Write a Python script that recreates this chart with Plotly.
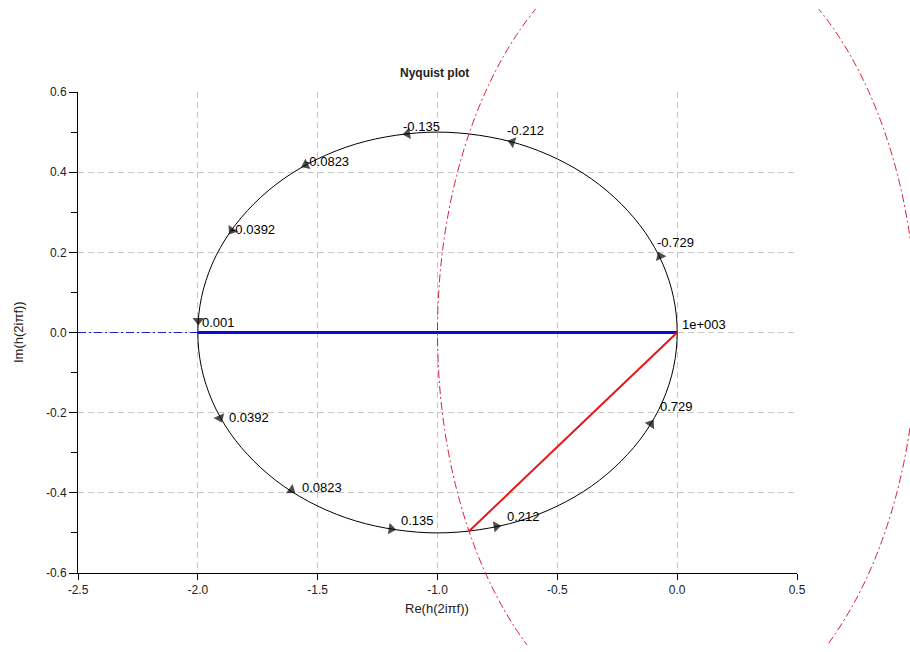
import numpy as np
import plotly.graph_objects as go

# Nyquist locus of h(2iπf), traversed from f = -1e3 through f = 0 to f = +1e3
curve_re = [0.000, -0.015, -0.060, -0.134, -0.234, -0.357, -0.500, -0.658, -0.826, -1.000,
            -1.174, -1.342, -1.500, -1.643, -1.766, -1.866, -1.940, -1.985, -2.000,
            -1.985, -1.940, -1.866, -1.766, -1.643, -1.500, -1.342, -1.174, -1.000,
            -0.826, -0.658, -0.500, -0.357, -0.234, -0.134, -0.060, -0.015, 0.000]
curve_im = [0.000, 0.087, 0.171, 0.250, 0.321, 0.383, 0.433, 0.470, 0.492, 0.500,
            0.492, 0.470, 0.433, 0.383, 0.321, 0.250, 0.171, 0.087, 0.000,
            -0.087, -0.171, -0.250, -0.321, -0.383, -0.433, -0.470, -0.492, -0.500,
            -0.492, -0.470, -0.433, -0.383, -0.321, -0.250, -0.171, -0.087, 0.000]

# frequency marks along the locus (arrow positions and their labels)
freq_labels = ["-0.729", "-0.212", "-0.135", "-0.0823", "-0.0392", "0.001",
               "0.0392", "0.0823", "0.135", "0.212", "0.729"]
freq_re = [-0.071, -0.688, -1.125, -1.550, -1.858, -1.998,
           -1.908, -1.610, -1.193, -0.755, -0.110]
freq_im = [0.190, 0.475, 0.496, 0.418, 0.255, 0.030,
           -0.213, -0.393, -0.490, -0.484, -0.228]
end_label = "1e+003"
end_re, end_im = 0.0, 0.0

# gain margin segment and phase margin segment
gm_re = [-2.0, 0.0]
gm_im = [0.0, 0.0]
gm_ext_re = [-2.5, -2.0]
gm_ext_im = [0.0, 0.0]
pm_re = [0.0, -0.8685]
pm_im = [0.0, -0.4957]

# unit circle
unit_re = [-1.0, 1.0]
unit_im = [-1.0, 1.0]

x_ticks = [-2.5, -2.0, -1.5, -1.0, -0.5, 0.0, 0.5]
y_ticks = [-0.6, -0.4, -0.2, 0.0, 0.2, 0.4, 0.6]

FONT = "Liberation Sans, Arial, sans-serif"
W, H = 910, 652
xdom = [78 / W, 797 / W]
ydom = [(H - 573) / H, (H - 92) / H]
xr = [x_ticks[0], x_ticks[-1]]
yr = [y_ticks[0], y_ticks[-1]]

fig = go.Figure()

fig.add_trace(go.Scatter(x=gm_ext_re, y=gm_ext_im, mode="lines",
                         line=dict(color="#1a1ad0", width=1, dash="8px,3px,2px,3px"),
                         hoverinfo="skip"))
fig.add_trace(go.Scatter(x=curve_re, y=curve_im, mode="lines",
                         line=dict(color="black", width=1, shape="spline"),
                         hoverinfo="skip"))
fig.add_trace(go.Scatter(x=gm_re, y=gm_im, mode="lines",
                         line=dict(color="#0a0ad8", width=3), hoverinfo="skip"))
fig.add_trace(go.Scatter(x=pm_re, y=pm_im, mode="lines",
                         line=dict(color="#e81616", width=2), hoverinfo="skip"))

# direction arrows: oriented along the locus using the neighbouring curve points
cx = np.array(curve_re[:-1])
cy = np.array(curve_im[:-1])
n = len(cx)
for fx, fy in zip(freq_re, freq_im):
    k = int(np.argmin((cx - fx) ** 2 + (cy - fy) ** 2))
    dx = cx[(k + 1) % n] - cx[(k - 1) % n]
    dy = cy[(k + 1) % n] - cy[(k - 1) % n]
    fig.add_trace(go.Scatter(
        x=[fx - 0.02 * dx, fx], y=[fy - 0.02 * dy, fy], mode="markers",
        marker=dict(symbol="triangle-up", size=[0, 10], color="black",
                    angleref="previous", line=dict(width=0)),
        hoverinfo="skip"))

# label offsets in pixels (xshift, yshift)
label_shift = [(-5, 14), (-7, 12), (-7, 7), (-3, 3), (-3, 1), (2, -2),
               (7, 0), (9, 3), (8, 8), (9, 10), (7, 17)]
for txt, fx, fy, (sx, sy) in zip(freq_labels, freq_re, freq_im, label_shift):
    fig.add_annotation(x=fx, y=fy, text=txt, showarrow=False, xanchor="left",
                       yanchor="middle", xshift=sx, yshift=sy,
                       font=dict(family=FONT, size=13, color="black"))
fig.add_annotation(x=end_re, y=end_im, text=end_label, showarrow=False, xanchor="left",
                   yanchor="middle", xshift=3, yshift=8,
                   font=dict(family=FONT, size=13, color="black"))

# full-window axes on the same scale, used for the unit circle that runs past the frame
y2dom = [7 / H, 1 - 9 / H]
sxu = (xr[1] - xr[0]) / (xdom[1] - xdom[0])
syu = (yr[1] - yr[0]) / (ydom[1] - ydom[0])
x2r = [xr[0] - xdom[0] * sxu, xr[1] + (1 - xdom[1]) * sxu]
y2r = [yr[0] - (ydom[0] - y2dom[0]) * syu, yr[1] + (y2dom[1] - ydom[1]) * syu]

fig.add_shape(type="circle", xref="x2", yref="y2",
              x0=unit_re[0], x1=unit_re[1], y0=unit_im[0], y1=unit_im[1],
              line=dict(color="#d4213a", width=1, dash="8px,3px,2px,3px"))

axis_common = dict(showline=True, linecolor="black", linewidth=1, zeroline=False,
                   showgrid=True, gridcolor="#c8c8c8", gridwidth=1, griddash="6px,4px",
                   ticks="outside", tickcolor="black",
                   tickfont=dict(family=FONT, size=12, color="#222"), automargin=False)

fig.update_layout(
    width=W, height=H, autosize=False,
    margin=dict(l=0, r=0, t=0, b=0),
    paper_bgcolor="white", plot_bgcolor="rgba(0,0,0,0)",
    showlegend=False,
    xaxis=dict(domain=xdom, range=xr, tickmode="array", tickvals=x_ticks,
               ticktext=[f"{v:.1f}" for v in x_ticks], ticklen=6, anchor="y",
               **axis_common),
    yaxis=dict(domain=ydom, range=yr, tickmode="array", tickvals=y_ticks,
               ticktext=[f"{v:.1f}" for v in y_ticks], ticklen=8, anchor="x",
               minor=dict(dtick=0.1, ticks="outside", ticklen=6, tickcolor="black",
                          showgrid=False),
               **axis_common),
    xaxis2=dict(domain=[0, 1], range=x2r, anchor="y2", visible=False,
                showgrid=False, zeroline=False),
    yaxis2=dict(domain=y2dom, range=y2r, anchor="x2", visible=False,
                showgrid=False, zeroline=False),
)

fig.add_annotation(xref="paper", yref="paper", x=434 / W, y=1 - 73 / H,
                   xanchor="center", yanchor="middle",
                   text="<b>Nyquist plot</b>", showarrow=False,
                   font=dict(family=FONT, size=12, color="#222"))
fig.add_annotation(xref="paper", yref="paper", x=437 / W, y=1 - 608 / H,
                   xanchor="center", yanchor="middle",
                   text="Re(h(2iπf))", showarrow=False,
                   font=dict(family=FONT, size=13, color="#222"))
fig.add_annotation(xref="paper", yref="paper", x=19 / W, y=1 - 332 / H,
                   xanchor="center", yanchor="middle",
                   text="Im(h(2iπf))", showarrow=False, textangle=-90,
                   font=dict(family=FONT, size=13, color="#222"))

fig.write_html("out.html")
